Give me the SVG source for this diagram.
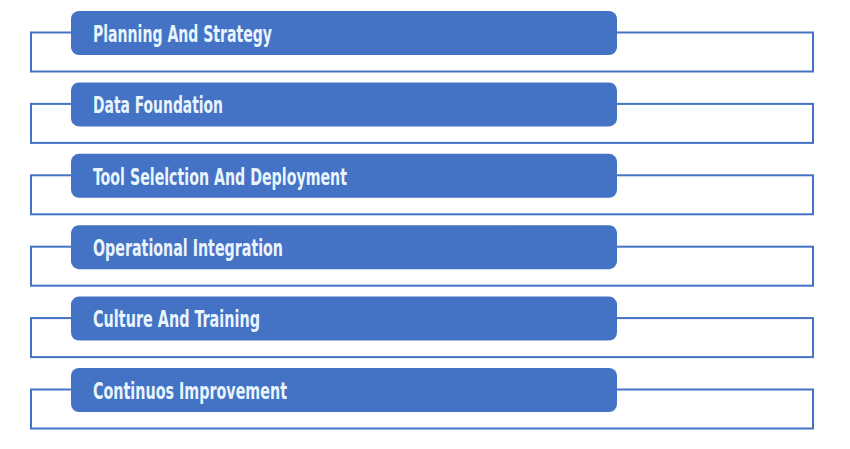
<svg xmlns="http://www.w3.org/2000/svg" width="850" height="449" viewBox="0 0 850 449">
<style>
.frame{fill:#ffffff;stroke:#4472C4;stroke-width:2}
.bar{fill:#4472C4}
.lbl{font-family:"DejaVu Sans Condensed","Liberation Sans Narrow","Liberation Sans",sans-serif;font-weight:bold;font-size:23px;fill:#E8F5FF}
</style>
<rect width="850" height="449" fill="#ffffff"/>
<g id="connectors">
<rect class="frame" x="31" y="32.5" width="782" height="39"/>
<rect class="frame" x="31" y="103.9" width="782" height="39"/>
<rect class="frame" x="31" y="175.3" width="782" height="39"/>
<rect class="frame" x="31" y="246.7" width="782" height="39"/>
<rect class="frame" x="31" y="318.1" width="782" height="39"/>
<rect class="frame" x="31" y="389.5" width="782" height="39"/>
</g>
<g id="node1"><rect class="bar" x="71" y="11" width="546" height="44" rx="8"/><text class="lbl" x="93" y="41.8" textLength="179" lengthAdjust="spacingAndGlyphs">Planning And Strategy</text></g>
<g id="node2"><rect class="bar" x="71" y="82.4" width="546" height="44" rx="8"/><text class="lbl" x="93" y="113.2" textLength="130" lengthAdjust="spacingAndGlyphs">Data Foundation</text></g>
<g id="node3"><rect class="bar" x="71" y="153.8" width="546" height="44" rx="8"/><text class="lbl" x="93" y="184.6" textLength="254" lengthAdjust="spacingAndGlyphs">Tool Selelction And Deployment</text></g>
<g id="node4"><rect class="bar" x="71" y="225.2" width="546" height="44" rx="8"/><text class="lbl" x="93" y="256" textLength="190" lengthAdjust="spacingAndGlyphs">Operational Integration</text></g>
<g id="node5"><rect class="bar" x="71" y="296.6" width="546" height="44" rx="8"/><text class="lbl" x="93" y="327.4" textLength="167" lengthAdjust="spacingAndGlyphs">Culture And Training</text></g>
<g id="node6"><rect class="bar" x="71" y="368" width="546" height="44" rx="8"/><text class="lbl" x="93" y="398.8" textLength="194" lengthAdjust="spacingAndGlyphs">Continuos Improvement</text></g>
</svg>
